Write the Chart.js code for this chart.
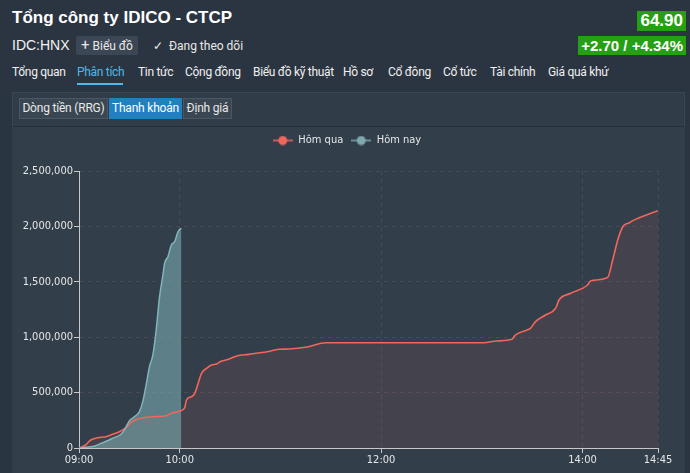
<!DOCTYPE html>
<html lang="vi">
<head>
  <meta charset="UTF-8" />
  <title>IDC - Thanh khoản</title>
  <script src="https://cdn.jsdelivr.net/npm/chart.js"></script>
  <style>
    * {
      box-sizing: border-box;
      margin: 0;
      padding: 0;
    }

    body {
      width: 690px;
      height: 473px;
      overflow: hidden;
      position: relative;
      background: #2b3541;
      color: #e8e8e8;
      font-family: 'Liberation Sans', Arial, sans-serif;
    }

    .abs {
      position: absolute;
      white-space: nowrap;
    }

    .title {
      left: 12px;
      top: 8px;
      font-size: 17px;
      font-weight: bold;
      color: #fff;
    }

    .code {
      left: 12px;
      top: 37px;
      font-size: 14px;
      color: #f2f2f2;
    }

    .btn-chart {
      left: 76px;
      top: 36px;
      width: 62px;
      height: 19px;
      background: #3b4754;
      border-radius: 2px;
      font-family: Roboto, sans-serif;
      font-size: 12px;
      line-height: 19px;
      padding-left: 5px;
    }

    .follow {
      left: 153px;
      top: 39px;
      font-family: Roboto, sans-serif;
      font-size: 12px;
    }

    .price {
      right: 4px;
      top: 11px;
      height: 20px;
      padding: 0 3px;
      background: #24a012;
      color: #fff;
      font-size: 17px;
      font-weight: bold;
      line-height: 20px;
    }

    .change {
      right: 4px;
      top: 36px;
      height: 19px;
      padding: 0 3px;
      background: #24a012;
      color: #fff;
      font-size: 15px;
      font-weight: bold;
      line-height: 19px;
    }

    .nav {
      top: 65px;
      font-family: Roboto, sans-serif;
      font-size: 12px;
      letter-spacing: -0.3px;
      color: #f0f0f0;
    }

    .nav.active {
      color: #4fb8ea;
    }

    .underline {
      left: 77px;
      top: 83px;
      width: 46px;
      height: 2px;
      background: #4fb8ea;
    }

    .strip {
      left: 12px;
      top: 92px;
      width: 673px;
      height: 35px;
      background: #303c48;
      border: 1px solid #3a4653;
      border-bottom-color: #25303a;
    }

    .tab {
      top: 98px;
      height: 21px;
      background: #3a4652;
      border: 1px solid #4a5764;
      font-family: Roboto, sans-serif;
      font-size: 12px;
      letter-spacing: -0.2px;
      line-height: 19px;
      text-align: center;
      color: #e8e8e8;
    }

    .tab.on {
      background: #1f80c2;
      border-color: #1f80c2;
      color: #fff;
    }

    .panel {
      left: 12px;
      top: 127px;
      width: 673px;
      height: 346px;
      background: #323f4b;
    }
  </style>
</head>
<body>

<div class="abs title">Tổng công ty IDICO - CTCP</div>
<div class="abs code">IDC:HNX</div>
<div class="abs btn-chart"><span style="font-size:15px">+</span> Biểu đồ</div>
<div class="abs follow">✓&nbsp; Đang theo dõi</div>
<div class="abs price">64.90</div>
<div class="abs change">+2.70 / +4.34%</div>

<div class="abs nav" style="left:12px">Tổng quan</div>
<div class="abs nav active" style="left:77px">Phân tích</div>
<div class="abs underline"></div>
<div class="abs nav" style="left:138px">Tin tức</div>
<div class="abs nav" style="left:185px">Cộng đồng</div>
<div class="abs nav" style="left:253px">Biểu đồ kỹ thuật</div>
<div class="abs nav" style="left:343px">Hồ sơ</div>
<div class="abs nav" style="left:388px">Cổ đông</div>
<div class="abs nav" style="left:443px">Cổ tức</div>
<div class="abs nav" style="left:490px">Tài chính</div>
<div class="abs nav" style="left:548px">Giá quá khứ</div>

<div class="abs strip"></div>
<div class="abs tab" style="left:19px;width:89px">Dòng tiền (RRG)</div>
<div class="abs tab on" style="left:109px;width:73px">Thanh khoản</div>
<div class="abs tab" style="left:183px;width:49px">Định giá</div>

<div class="abs panel">
  <canvas id="liquidityChart" width="673" height="346"></canvas>
</div>

<script>
  // khối lượng khớp lũy kế trong phiên
  const seriesNames = ['Hôm qua', 'Hôm nay'];

  const yesterdayTimes = [
    '09:00', '09:02', '09:04', '09:07', '09:11', '09:16', '09:20', '09:24', '09:28', '09:31',
    '09:35', '09:44', '09:52', '09:55', '10:00', '10:03', '10:04', '10:07', '10:09', '10:11',
    '10:13', '10:16', '10:19', '10:22', '10:24', '10:29', '10:34', '10:41', '10:52', '10:59',
    '11:05', '11:16', '11:27', '13:01', '13:09', '13:18', '13:20', '13:27', '13:29', '13:32',
    '13:38', '13:44', '13:46', '13:53', '14:03', '14:05', '14:15', '14:18', '14:19', '14:21',
    '14:24', '14:28', '14:30', '14:45'
  ];
  const yesterdayVolume = [
    0, 12000, 27000, 72000, 93000, 102000, 123000, 147000, 183000, 231000,
    262000, 282000, 291000, 313000, 334000, 365000, 433000, 463000, 493000, 584000,
    674000, 719000, 749000, 758000, 779000, 800000, 830000, 845000, 869000, 891000,
    893000, 911000, 950000, 950000, 966000, 981000, 1020000, 1065000, 1080000, 1140000,
    1200000, 1261000, 1336000, 1396000, 1471000, 1510000, 1540000, 1697000, 1757000, 1877000,
    1997000, 2033000, 2052000, 2142000
  ];

  const todayTimes = [
    '09:00', '09:04', '09:10', '09:13', '09:17', '09:20', '09:25', '09:27', '09:30', '09:33',
    '09:36', '09:38', '09:40', '09:42', '09:44', '09:46', '09:48', '09:50', '09:51', '09:53',
    '09:55', '09:57', '09:59', '10:01'
  ];
  const todayVolume = [
    0, 6000, 21000, 42000, 65000, 88000, 124000, 162000, 244000, 282000,
    328000, 418000, 569000, 734000, 839000, 1065000, 1366000, 1560000, 1667000, 1727000,
    1832000, 1862000, 1952000, 1983000
  ];

  const xTickLabels = ['09:00', '10:00', '12:00', '14:00', '14:45'];
  const yTickValues = [0, 500000, 1000000, 1500000, 2000000, 2500000];

  function toMinutes(t) {
    const [h, m] = t.split(':').map(Number);
    return (h - 9) * 60 + m;
  }

  function toClock(v) {
    const h = 9 + Math.floor(v / 60);
    const m = v % 60;
    return String(h).padStart(2, '0') + ':' + String(m).padStart(2, '0');
  }

  function points(times, values) {
    return times.map((t, i) => ({ x: toMinutes(t), y: values[i] }));
  }

  // ký hiệu chú thích: đoạn thẳng có chấm tròn ở giữa
  function legendIcon(color) {
    const c = document.createElement('canvas');
    c.width = 20;
    c.height = 10;
    const g = c.getContext('2d');
    g.strokeStyle = color;
    g.lineWidth = 1.5;
    g.beginPath();
    g.moveTo(0, 5);
    g.lineTo(20, 5);
    g.stroke();
    g.fillStyle = color;
    g.beginPath();
    g.arc(10, 5, 4.5, 0, Math.PI * 2);
    g.fill();
    return c;
  }

  // chú thích cao 44px và dịch sang phải cho khớp ảnh gốc
  const legendBox = {
    id: 'legendBox',
    beforeInit(chart) {
      const fit = chart.legend.fit;
      chart.legend.fit = function () {
        fit.call(this);
        this.height = 44;
      };
    },
    afterLayout(chart) {
      chart.legend.left += 12;
      chart.legend.right += 12;
    }
  };

  const tickFont = { family: "'Liberation Sans Narrow', 'DejaVu Sans Condensed', 'Liberation Sans', sans-serif", size: 11 };

  new Chart(document.getElementById('liquidityChart'), {
    type: 'line',
    data: {
      datasets: [
        {
          label: seriesNames[0],
          data: points(yesterdayTimes, yesterdayVolume),
          borderColor: '#f2665c',
          backgroundColor: 'rgba(240, 100, 95, 0.1)',
          borderWidth: 1.6,
          fill: 'origin',
          pointRadius: 0,
          cubicInterpolationMode: 'monotone',
          pointStyle: legendIcon('#f2665c'),
          order: 2
        },
        {
          label: seriesNames[1],
          data: points(todayTimes, todayVolume),
          borderColor: '#82b4b9',
          backgroundColor: 'rgba(127, 179, 184, 0.56)',
          borderWidth: 1.5,
          fill: 'origin',
          pointRadius: 0,
          cubicInterpolationMode: 'monotone',
          pointStyle: legendIcon('#7fa9ac'),
          order: 1
        }
      ]
    },
    options: {
      responsive: false,
      animation: false,
      layout: { padding: { left: 0, right: 27, top: 0, bottom: 0 } },
      plugins: {
        filler: { drawTime: 'beforeDatasetsDraw' },
        tooltip: { enabled: false },
        legend: {
          position: 'top',
          labels: {
            usePointStyle: true,
            pointStyleWidth: 20,
            padding: 8,
            color: '#e6e6e6',
            font: tickFont,
            sort: (a, b) => a.datasetIndex - b.datasetIndex
          }
        }
      },
      scales: {
        x: {
          type: 'linear',
          min: 0,
          max: toMinutes('14:45'),
          afterBuildTicks: (scale) => {
            scale.ticks = xTickLabels.map(t => ({ value: toMinutes(t) }));
          },
          afterFit: (scale) => { scale.height = 25; },
          ticks: {
            color: '#e6e6e6',
            font: tickFont,
            padding: 1,
            maxRotation: 0,
            autoSkip: false,
            callback: (v) => toClock(v)
          },
          grid: {
            color: '#4b4953',
            tickColor: '#c8c8c8',
            tickLength: 5
          },
          border: { color: '#c8c8c8', width: 1, dash: [4, 4] }
        },
        y: {
          min: 0,
          max: 2500000,
          afterBuildTicks: (scale) => {
            scale.ticks = yTickValues.map(v => ({ value: v }));
          },
          afterFit: (scale) => { scale.width = 67; },
          ticks: {
            color: '#e6e6e6',
            font: tickFont,
            padding: 1,
            callback: (v) => v.toLocaleString('en-US')
          },
          grid: {
            color: '#4b4953',
            tickColor: '#c8c8c8',
            tickLength: 5
          },
          border: { color: '#c8c8c8', width: 1, dash: [4, 4] }
        }
      }
    },
    plugins: [legendBox]
  });
</script>

</body>
</html>
